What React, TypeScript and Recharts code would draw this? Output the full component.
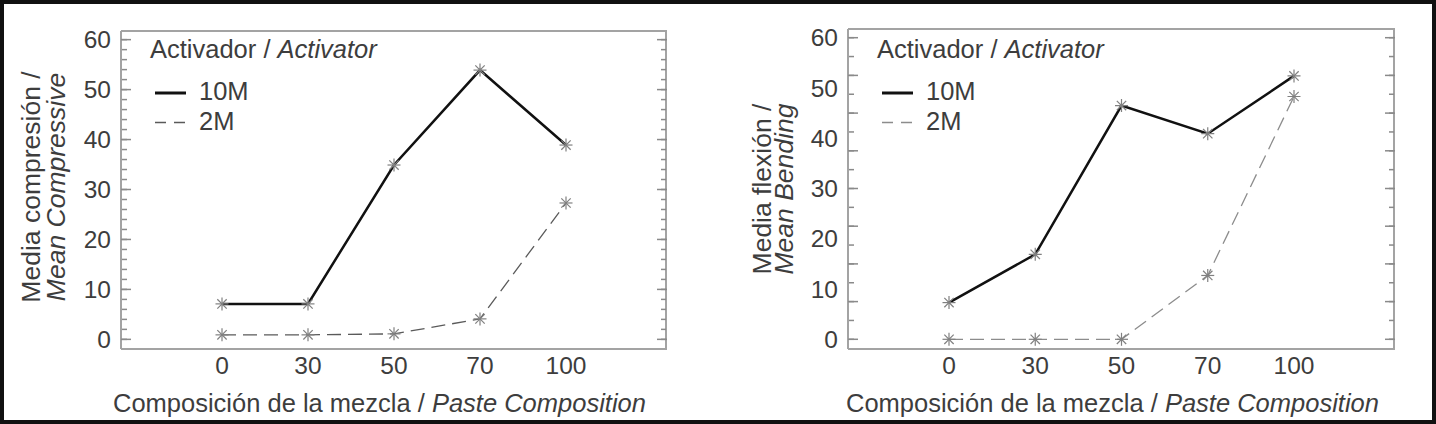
import React from 'react';
import { LineChart, Line, XAxis, YAxis, Legend } from 'recharts';

// Paste composition (% replacement) on the x axis
const composition = ['0', '30', '50', '70', '100'];

// Mean compressive strength by activator
const compression10M = [7.1, 7.1, 34.9, 53.9, 38.9];
const compression2M = [0.9, 0.9, 1.1, 4.1, 27.3];

// Mean bending strength by activator
const bending10M = [7.3, 16.9, 46.5, 40.9, 52.4];
const bending2M = [0, 0, 0, 12.7, 48.3];

// Axis ticks
const yLabels = [0, 10, 20, 30, 40, 50, 60];
const compressionMajor = [0, 10, 20, 30, 40, 50, 60];
const compressionMinor = [
  0, 2, 4, 6, 8, 10, 12, 14, 16, 18, 20, 22, 24, 26, 28, 30,
  32, 34, 36, 38, 40, 42, 44, 46, 48, 50, 52, 54, 56, 58, 60,
];
const bendingMajor = [0, 7.5, 15, 22.5, 30, 37.5, 45, 52.5, 60];
const bendingMinor = [
  0, 3.75, 7.5, 11.25, 15, 18.75, 22.5, 26.25, 30,
  33.75, 37.5, 41.25, 45, 48.75, 52.5, 56.25, 60,
];

const FONT = '"Liberation Sans", Arial, Helvetica, sans-serif';
const TEXT = '#3d3d3d';
const FRAME = '#a3a3a3';
const TICK = '#8a8a8a';
const MARKER = '#808080';
const DOMAIN: [number, number] = [-1.93, 61.73];
const X_PAD = { left: 101, right: 101 };

const toRows = (a: number[], b: number[]) =>
  composition.map((comp, i) => ({ comp, m10: a[i], m2: b[i] }));

const compressionRows = toRows(compression10M, compression2M);
const bendingRows = toRows(bending10M, bending2M);

const blankTick = () => <g />;

const Asterisk = ({ cx, cy }: { cx?: number; cy?: number }) => {
  if (cx == null || cy == null) return null;
  const r = 6.5;
  const d = r * 0.72;
  return (
    <g stroke={MARKER} strokeWidth={1.2}>
      <line x1={cx - r} y1={cy} x2={cx + r} y2={cy} />
      <line x1={cx} y1={cy - r} x2={cx} y2={cy + r} />
      <line x1={cx - d} y1={cy - d} x2={cx + d} y2={cy + d} />
      <line x1={cx - d} y1={cy + d} x2={cx + d} y2={cy - d} />
    </g>
  );
};

const renderDot = (p: any) => <Asterisk key={`dot-${p.index}`} cx={p.cx} cy={p.cy} />;

const ActivatorLegend = ({ dashColor }: { dashColor: string }) => (
  <svg width={300} height={110} style={{ display: 'block' }}>
    <g fontFamily={FONT} fontSize={25.5} fill={TEXT}>
      <text x={1} y={28}>
        Activador / <tspan fontStyle="italic">Activator</tspan>
      </text>
      <line x1={6} y1={63} x2={37} y2={63} stroke="#111" strokeWidth={3} />
      <text x={50} y={70}>10M</text>
      <line x1={6} y1={92.5} x2={36} y2={92.5} stroke={dashColor} strokeWidth={1.4} strokeDasharray="11 8" />
      <text x={50} y={99.5}>2M</text>
    </g>
  </svg>
);

interface PanelProps {
  rows: { comp: string; m10: number; m2: number }[];
  left: number;
  margin: { top: number; right: number; bottom: number; left: number };
  major: number[];
  minor: number[];
  yTitle: [string, string];
  yTitleX: [number, number];
  yTitleDy: number;
  xTitleDx: number;
  dashColor: string;
}

const Panel: React.FC<PanelProps> = ({
  rows, left, margin, major, minor, yTitle, yTitleX, yTitleDy, xTitleDx, dashColor,
}) => {
  const plotLeft = margin.left + 60;
  const tickLine = { stroke: TICK, strokeWidth: 1.5 };
  const frameLine = { stroke: FRAME, strokeWidth: 2 };

  const xTitle = (props: any) => {
    const vb = props.viewBox || {};
    return (
      <text x={vb.x + xTitleDx} y={vb.y + 63} fontFamily={FONT} fontSize={25.5} fill={TEXT}>
        Composición de la mezcla / <tspan fontStyle="italic">Paste Composition</tspan>
      </text>
    );
  };

  const yTitleLabel = (props: any) => {
    const vb = props.viewBox || {};
    const edge = vb.x + vb.width;
    const cy = vb.y + vb.height / 2 + yTitleDy;
    return (
      <g fontFamily={FONT} fontSize={26.5} fill={TEXT}>
        <text x={edge + yTitleX[0]} y={cy} textAnchor="middle" transform={`rotate(-90, ${edge + yTitleX[0]}, ${cy})`}>
          {yTitle[0]}
        </text>
        <text
          x={edge + yTitleX[1]}
          y={cy}
          textAnchor="middle"
          fontStyle="italic"
          transform={`rotate(-90, ${edge + yTitleX[1]}, ${cy})`}
        >
          {yTitle[1]}
        </text>
      </g>
    );
  };

  return (
    <div style={{ position: 'absolute', left, top: 0 }}>
      <LineChart width={718} height={424} data={rows} margin={margin}>
        <XAxis
          xAxisId="b"
          dataKey="comp"
          type="category"
          scale="point"
          padding={X_PAD}
          height={40}
          interval={0}
          tickLine={false}
          tickSize={0}
          tickMargin={8}
          axisLine={frameLine}
          tick={{ fill: TEXT, fontSize: 24.5, fontFamily: FONT }}
          label={{ content: xTitle }}
        />
        {/* top edge of the frame */}
        <XAxis
          xAxisId="t"
          dataKey="comp"
          type="category"
          scale="point"
          orientation="top"
          mirror
          padding={X_PAD}
          height={1}
          tickLine={false}
          tick={blankTick}
          axisLine={frameLine}
        />
        <YAxis
          yAxisId="v"
          type="number"
          domain={DOMAIN}
          allowDataOverflow
          ticks={yLabels}
          interval={0}
          width={60}
          tickLine={false}
          tickSize={0}
          tickMargin={10}
          axisLine={frameLine}
          tick={{ fill: TEXT, fontSize: 24.5, fontFamily: FONT }}
          label={{ content: yTitleLabel }}
        />
        {/* inward ticks on both sides of the frame */}
        <YAxis yAxisId="lMinor" type="number" domain={DOMAIN} allowDataOverflow ticks={minor} interval={0}
          mirror width={1} tickSize={5} tick={blankTick} axisLine={false} tickLine={tickLine} />
        <YAxis yAxisId="lMajor" type="number" domain={DOMAIN} allowDataOverflow ticks={major} interval={0}
          mirror width={1} tickSize={10} tick={blankTick} axisLine={false} tickLine={tickLine} />
        <YAxis yAxisId="rMinor" orientation="right" type="number" domain={DOMAIN} allowDataOverflow ticks={minor}
          interval={0} mirror width={1} tickSize={5} tick={blankTick} axisLine={frameLine} tickLine={tickLine} />
        <YAxis yAxisId="rMajor" orientation="right" type="number" domain={DOMAIN} allowDataOverflow ticks={major}
          interval={0} mirror width={1} tickSize={10} tick={blankTick} axisLine={false} tickLine={tickLine} />
        <Legend
          layout="horizontal"
          verticalAlign="middle"
          align="center"
          wrapperStyle={{ left: plotLeft + 28, top: 30, width: 300, height: 110 }}
          content={() => <ActivatorLegend dashColor={dashColor} />}
        />
        <Line
          xAxisId="b"
          yAxisId="v"
          type="linear"
          dataKey="m10"
          name="10M"
          stroke="#111"
          strokeWidth={2.5}
          dot={renderDot}
          activeDot={false}
          isAnimationActive={false}
        />
        <Line
          xAxisId="b"
          yAxisId="v"
          type="linear"
          dataKey="m2"
          name="2M"
          stroke={dashColor}
          strokeWidth={1.3}
          strokeDasharray="14 7"
          dot={renderDot}
          activeDot={false}
          isAnimationActive={false}
        />
      </LineChart>
    </div>
  );
};

export default function App() {
  return (
    <div style={{ position: 'fixed', left: 0, top: 0, width: 1436, height: 424, background: '#fff', overflow: 'hidden' }}>
      <Panel
        rows={compressionRows}
        left={0}
        margin={{ top: 31, right: 51, bottom: 35, left: 61 }}
        major={compressionMajor}
        minor={compressionMinor}
        yTitle={['Media compresión /', 'Mean Compressive']}
        yTitleX={[-81.5, -56]}
        yTitleDy={-3}
        xTitleDx={-8}
        dashColor="#5a5a5a"
      />
      <Panel
        rows={bendingRows}
        left={718}
        margin={{ top: 29, right: 41, bottom: 35, left: 70 }}
        major={bendingMajor}
        minor={bendingMinor}
        yTitle={['Media flexión /', 'Mean Bending']}
        yTitleX={[-77.5, -55]}
        yTitleDy={0}
        xTitleDx={-2}
        dashColor="#8c8c8c"
      />
      <div
        style={{
          position: 'absolute',
          left: 0,
          top: 0,
          width: 1436,
          height: 424,
          boxSizing: 'border-box',
          border: '4px solid #111',
          pointerEvents: 'none',
        }}
      />
    </div>
  );
}
